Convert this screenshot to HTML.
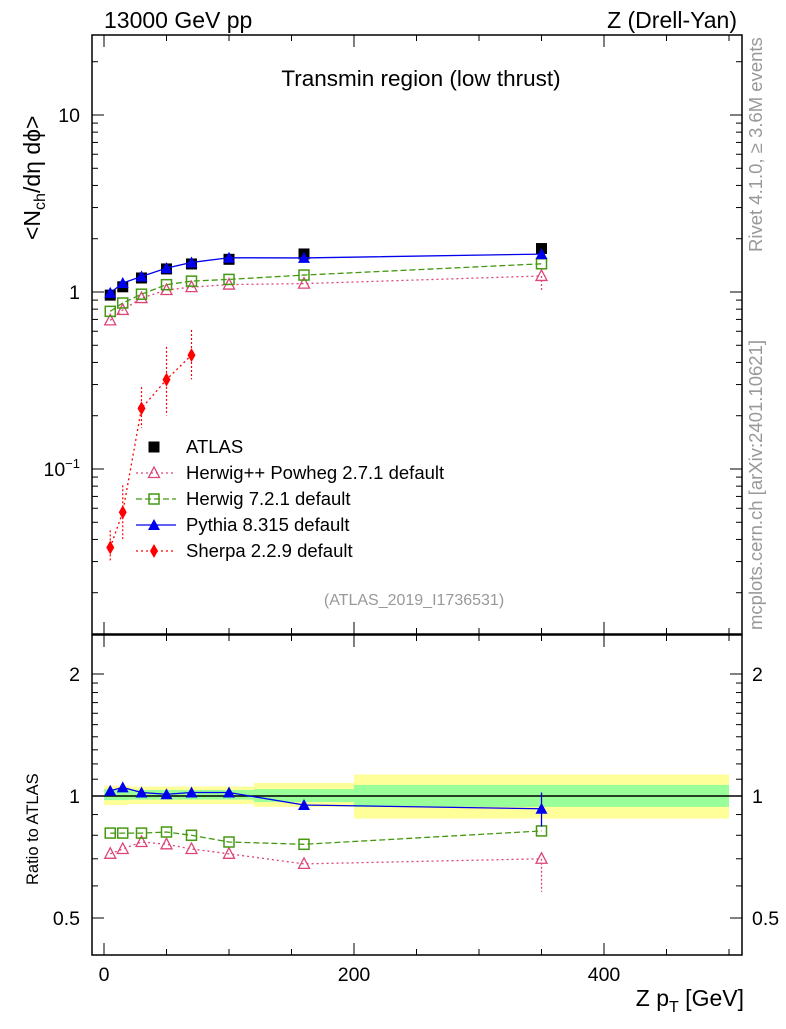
<!DOCTYPE html>
<html><head><meta charset="utf-8"><style>
body{margin:0;background:#fff}
svg text{font-family:"Liberation Sans",sans-serif}
</style></head><body>
<svg id="c" width="786" height="1024" xmlns="http://www.w3.org/2000/svg">
<g id="bands"></g>
<g id="marks"></g>
<g id="axes"></g>
<text x="104" y="28" font-size="23">13000 GeV pp</text>
<text x="737" y="28" font-size="23" text-anchor="end">Z (Drell-Yan)</text>
<text x="421" y="86" font-size="22.5" text-anchor="middle">Transmin region (low thrust)</text>
<text x="414" y="605" font-size="16" fill="#999" text-anchor="middle">(ATLAS_2019_I1736531)</text>
<text transform="translate(40,240) rotate(-90)" font-size="23">&lt;N<tspan font-size="16" dy="5">ch</tspan><tspan dy="-5">/dη dϕ&gt;</tspan></text>
<text transform="translate(38,885) rotate(-90)" font-size="16.5">Ratio to ATLAS</text>
<text x="744" y="1006" font-size="23" text-anchor="end">Z p<tspan font-size="16" dy="6">T</tspan><tspan dy="-6"> [GeV]</tspan></text>
<text transform="translate(762,252) rotate(-90)" font-size="18.5" fill="#999">Rivet 4.1.0, ≥ 3.6M events</text>
<text transform="translate(762,630) rotate(-90)" font-size="18.5" fill="#999">mcplots.cern.ch [arXiv:2401.10621]</text>
<g id="legend"></g>
</svg>
<script>
const xs=[5,15,30,50,70,100,160,350];
const atlas=[0.96,1.07,1.2,1.35,1.44,1.53,1.64,1.76];
const rPythia=[1.03,1.05,1.02,1.01,1.02,1.02,0.95,0.93];
const rHerwig7=[0.81,0.81,0.81,0.815,0.80,0.77,0.76,0.82];
const rHerwigpp=[0.72,0.74,0.77,0.76,0.74,0.72,0.68,0.70];
const sherpaX=[5,15,30,50,70];
const sherpa=[0.036,0.057,0.22,0.32,0.44];
const sherpaErr=[0.009,0.024,0.07,0.17,0.17];
const binEdges=[0,10,20,40,60,80,120,200,500];
const yelLo=[0.95,0.95,0.955,0.955,0.955,0.955,0.94,0.88];
const yelHi=[1.06,1.06,1.055,1.055,1.055,1.055,1.077,1.13];
const grnLo=[0.977,0.977,0.98,0.98,0.98,0.98,0.966,0.94];
const grnHi=[1.04,1.04,1.035,1.035,1.035,1.035,1.04,1.065];
const xTicks=[0,200,400];
const mainTicks=[0.1,1,10];
const mainTickLabels=["10","1","10"];
const ratioTicks=[0.5,1,2];
const ratioTickLabels=["0.5","1","2"];

const L=92,R=742,T=35,MB=634,RT=635,RB=955;
const X=v=>104+v*1.25;
const Y=v=>292-Math.log10(v)*177;
const YR=v=>796-Math.log2(v)*122;
const NS='http://www.w3.org/2000/svg';
function mk(tag,at,parent){const e=document.createElementNS(NS,tag);for(const k in at)e.setAttribute(k,at[k]);document.getElementById(parent).appendChild(e);return e;}

for(let i=0;i<binEdges.length-1;i++){
 let b=mk('rect',{x:X(binEdges[i]),y:YR(yelHi[i]),width:X(binEdges[i+1])-X(binEdges[i]),height:YR(yelLo[i])-YR(yelHi[i]),fill:'#ffff99'},'bands');
 
 
 let g=mk('rect',{x:X(binEdges[i]),y:YR(grnHi[i]),width:X(binEdges[i+1])-X(binEdges[i]),height:YR(grnLo[i])-YR(grnHi[i]),fill:'#99ff99'},'bands');
 
 
}
let ref=mk('line',{x1:L,x2:R,y1:YR(1),y2:YR(1),stroke:'#000','stroke-width':1.5},'bands');



function marker(type,x,y,col,parent){
 let e;
 if(type==='sq') e=mk('rect',{x:x-5.5,y:y-5.5,width:11,height:11,fill:'#000'},parent);
 else if(type==='osq') e=mk('rect',{x:x-5,y:y-5,width:10,height:10,fill:'none',stroke:col,'stroke-width':1.5},parent);
 else if(type==='tri') e=mk('polygon',{points:`${x},${y-6} ${x-6},${y+5} ${x+6},${y+5}`,fill:col},parent);
 else if(type==='otri') e=mk('polygon',{points:`${x},${y-6} ${x-5.5},${y+4.5} ${x+5.5},${y+4.5}`,fill:'none',stroke:col,'stroke-width':1.3},parent);
 else e=mk('polygon',{points:`${x},${y-7} ${x-4},${y} ${x},${y+7} ${x+4},${y}`,fill:col},parent);
 return e;
}
function series(xv,yv,fy,col,dash,type,name){
 const pts=xv.map((x,i)=>X(x)+','+fy(yv[i])).join(' ');
 let l=mk('polyline',{points:pts,fill:'none',stroke:col,'stroke-width':1.3,'stroke-dasharray':dash},'marks');
 
 
 xv.forEach((x,i)=>{let m=marker(type,X(x),fy(yv[i]),col,'marks');
 
 });
}
const mul=(a,b)=>a.map((v,i)=>v*b[i]);
series(xs,mul(atlas,rHerwigpp),Y,'#dd4477','2,3','otri','herwigpp-main');
series(xs,mul(atlas,rHerwig7),Y,'#449911','6,3','osq','herwig7-main');
xs.forEach((x,i)=>{let m=marker('sq',X(x),Y(atlas[i]),'#000','marks');
 
 });
series(xs,mul(atlas,rPythia),Y,'#0000ee','','tri','pythia-main');
sherpaX.forEach((x,i)=>{let e=mk('line',{x1:X(x),x2:X(x),y1:Y(sherpa[i]+sherpaErr[i]),y2:Y(sherpa[i]-sherpaErr[i]*0.7),stroke:'#ff0000','stroke-width':1.2,'stroke-dasharray':'2,2'},'marks');
 
 });
series(sherpaX,sherpa,Y,'#ff0000','2,3','dia','sherpa-main');
let ebm=mk('line',{x1:X(350),x2:X(350),y1:Y(atlas[7]*rHerwigpp[7]),y2:Y(atlas[7]*rHerwigpp[7]*0.82),stroke:'#dd4477','stroke-width':1.3,'stroke-dasharray':'2,2'},'marks');


series(xs,rHerwigpp,YR,'#dd4477','2,3','otri','herwigpp-ratio');
series(xs,rHerwig7,YR,'#449911','6,3','osq','herwig7-ratio');
series(xs,rPythia,YR,'#0000ee','','tri','pythia-ratio');
let eb=mk('line',{x1:X(350),x2:X(350),y1:YR(1.02),y2:YR(0.84),stroke:'#0000ee','stroke-width':1.3},'marks');


let eb2=mk('line',{x1:X(350),x2:X(350),y1:YR(0.70),y2:YR(0.58),stroke:'#dd4477','stroke-width':1.3,'stroke-dasharray':'2,2'},'marks');



[[T,MB],[RT,RB]].forEach(([a,b])=>{let f=mk('rect',{x:L,y:a,width:R-L,height:b-a,fill:'none',stroke:'#000','stroke-width':1.5},'axes');
 
 });
function tk(x1,y1,x2,y2){mk('line',{x1,y1,x2,y2,stroke:'#000','stroke-width':1},'axes');}
for(let v=0;v<=500;v+=50){const big=v%200===0;const len=big?12:6;
 [MB,RB].forEach(b=>tk(X(v),b,X(v),b-len));[T,RT].forEach(t=>tk(X(v),t,X(v),t+len));}
xTicks.forEach(v=>{let t=mk('text',{x:X(v),y:981,'font-size':19.5,'text-anchor':'middle'},'axes');t.textContent=v;
 });
for(let d=-2;d<=1;d++)for(let k=1;k<10;k++){const v=k*Math.pow(10,d);const y=Y(v);if(y<T||y>MB)continue;const len=k===1?12:6;tk(L,y,L+len,y);tk(R,y,R-len,y);}
mainTicks.forEach((v,i)=>{let t=mk('text',{x:80,y:Y(v)+7,'font-size':19.5,'text-anchor':'end'},'axes');
 if(v===0.1){t.innerHTML='10<tspan font-size="13" dy="-8">−1</tspan>';}else t.textContent=mainTickLabels[i];
 });
[0.5,0.6,0.7,0.8,0.9,1,1.1,1.2,1.3,1.4,1.5,1.6,1.7,1.8,1.9,2].forEach(v=>{const y=YR(v);const len=(v===0.5||v===1||v===2)?12:6;tk(L,y,L+len,y);tk(R,y,R-len,y);});
ratioTicks.forEach((v,i)=>{const y=YR(v)+7;
 let t=mk('text',{x:80,y,'font-size':19.5,'text-anchor':'end'},'axes');t.textContent=ratioTickLabels[i];
 
 let t2=mk('text',{x:752,y,'font-size':19.5},'axes');t2.textContent=ratioTickLabels[i];
 });

const leg=[['ATLAS','sq','#000',''],['Herwig++ Powheg 2.7.1 default','otri','#dd4477','2,3'],['Herwig 7.2.1 default','osq','#449911','6,3'],['Pythia 8.315 default','tri','#0000ee',''],['Sherpa 2.2.9 default','dia','#ff0000','2,3']];
leg.forEach((e,i)=>{const y=447+i*26;
 if(i>0){let l=mk('line',{x1:136,x2:176,y1:y,y2:y,stroke:e[2],'stroke-width':1.3,'stroke-dasharray':e[3]},'legend');
  }
 let m=marker(e[1],154,y,e[2],'legend');
 
 let t=mk('text',{x:186,y:y+6,'font-size':18.5},'legend');t.textContent=e[0];
 });
</script>
</body></html>
